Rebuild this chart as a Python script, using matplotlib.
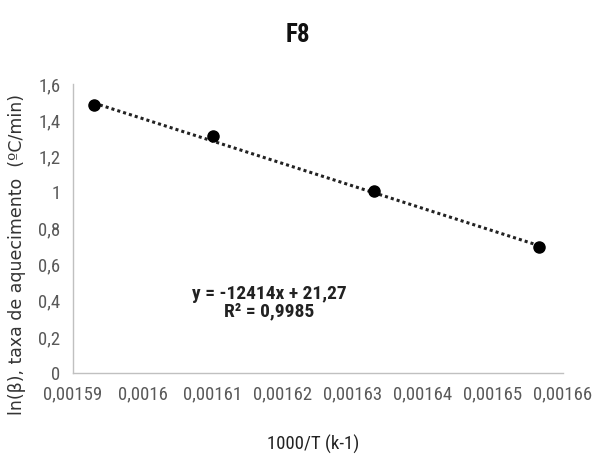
import matplotlib
matplotlib.use("Agg")
import matplotlib.pyplot as plt
from matplotlib.ticker import FuncFormatter
from matplotlib import font_manager

# Inverse temperature (1000/T) and ln of heating rate
inv_temp = [0.001593, 0.00161, 0.001633, 0.0016566]
ln_beta = [1.484, 1.31, 1.005, 0.698]

# Linear trendline coefficients shown on the chart
slope = -12414
intercept = 21.27
r_squared = 0.9985

x_ticks = [0.00159, 0.0016, 0.00161, 0.00162, 0.00163, 0.00164, 0.00165, 0.00166]
y_ticks = [0, 0.2, 0.4, 0.6, 0.8, 1.0, 1.2, 1.4, 1.6]

# pick a narrow face that has both regular and bold weights
entries = font_manager.fontManager.ttflist
preferred = ["Liberation Sans Narrow", "Roboto Condensed", "DejaVu Sans Condensed",
             "Open Sans Condensed", "Noto Sans Condensed", "Lato Condensed"]
names = sorted({f.name for f in entries})
cands = preferred + [n for n in names if ("Narrow" in n or "Condensed" in n) and n not in preferred]


def weights(name):
    return {f.weight if isinstance(f.weight, int) else 400 for f in entries if f.name == name}


narrow = None
for n in cands:
    w = weights(n)
    if w and any(x >= 600 for x in w) and any(350 <= x < 600 for x in w):
        narrow = n
        break
if narrow is None:
    narrow = "DejaVu Sans"
stretch = "normal"
if narrow == "DejaVu Sans":
    if any(f.name == "DejaVu Sans" and f.stretch == "condensed" for f in entries):
        stretch = "condensed"

fig = plt.figure(figsize=(5.95, 4.54), dpi=100)
ax = fig.add_axes([0.1227, 0.1784, 0.8235, 0.6366])

ax.plot(inv_temp, ln_beta, "o", color="black", markersize=8, zorder=3)

x0, x1 = inv_temp[0], inv_temp[-1]
ax.plot([x0, x1], [slope * x0 + intercept, slope * x1 + intercept],
        linestyle=(0, (1, 1)), color="#222222", linewidth=2.2, zorder=2)

ax.set_xlim(x_ticks[0], x_ticks[-1])
ax.set_ylim(y_ticks[0], y_ticks[-1])
ax.set_xticks(x_ticks)
ax.set_yticks(y_ticks)


def comma_fmt(v, pos):
    s = ("%.5f" % v).rstrip("0").rstrip(".")
    if s in ("", "-0"):
        s = "0"
    return s.replace(".", ",")


ax.xaxis.set_major_formatter(FuncFormatter(comma_fmt))
ax.yaxis.set_major_formatter(FuncFormatter(comma_fmt))

for side in ("top", "right"):
    ax.spines[side].set_visible(False)
for side in ("left", "bottom"):
    ax.spines[side].set_color("#c0c0c0")
    ax.spines[side].set_linewidth(1.0)
ax.tick_params(length=0, pad=9, labelcolor="#595959")
tick_size = 13.5 if narrow != "DejaVu Sans" else 10
for lab in ax.get_xticklabels() + ax.get_yticklabels():
    lab.set_fontfamily(narrow)
    lab.set_fontstretch(stretch)
    lab.set_fontsize(tick_size)

fig.text(0.5, 0.922, "F8", ha="center", va="center", fontsize=18,
         fontweight="bold", family=narrow, stretch=stretch, color="#111111")
ax.set_xlabel("1000/T (k-1)", fontsize=tick_size, family=narrow, stretch=stretch,
              color="#222222")
ax.xaxis.set_label_coords(0.49, -0.215)
ax.set_ylabel("ln(β), taxa de aquecimento  (ºC/min)", fontsize=12.5,
              family="DejaVu Sans", color="#333333")
ax.yaxis.set_label_coords(-0.095, 0.41)

ax.text(0.001618, 0.39, "y = -12414x + 21,27\nR² = 0,9985", ha="center", va="center",
        fontsize=14, family=narrow, stretch=stretch, fontweight="bold",
        color="#222222", linespacing=1.0)

fig.savefig("out.png", dpi=100)
